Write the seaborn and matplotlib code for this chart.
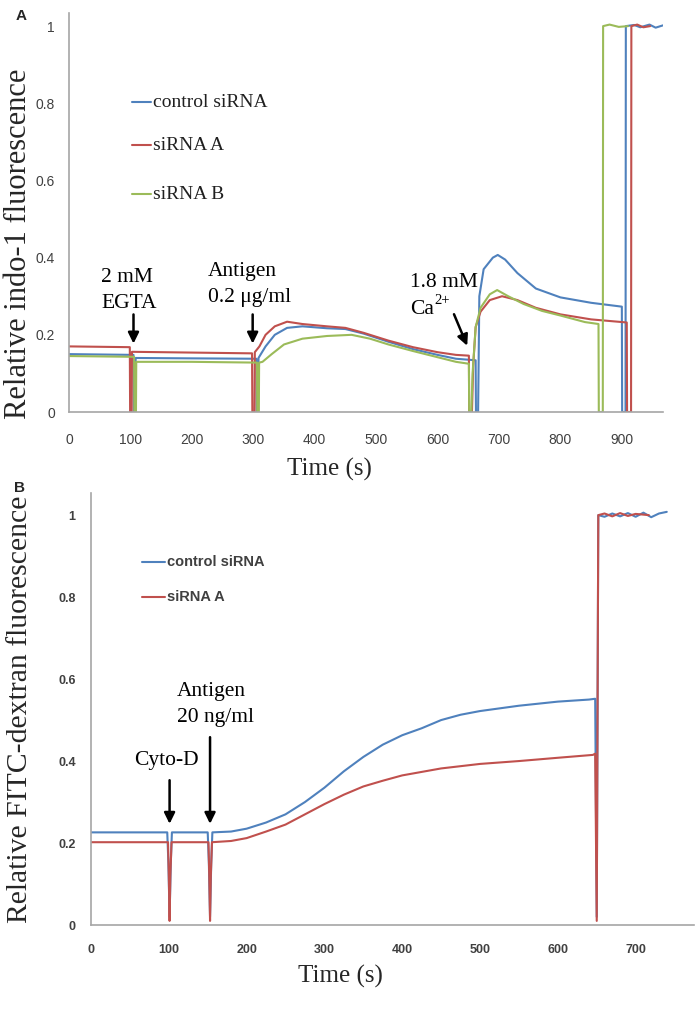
import matplotlib
matplotlib.use("Agg")
import matplotlib.pyplot as plt
import seaborn as sns
import pandas as pd

# ---------------- Panel A data (time s, relative indo-1 fluorescence) ----------------
a_ctrl_t = [0, 105, 105.5, 108, 108.5, 200, 305, 305.5, 308, 308.5, 320, 335, 355, 380, 420, 450, 480, 520,
            560, 600, 630, 662, 662.5, 666, 668, 675, 690, 698, 710, 730, 760, 800, 850, 900, 900.5, 906,
            906.5, 920, 930, 945, 955, 967]
a_ctrl_v = [0.15, 0.148, 0.0, 0.0, 0.14, 0.139, 0.138, 0.0, 0.0, 0.14, 0.17, 0.2, 0.218, 0.222, 0.217, 0.215,
            0.203, 0.182, 0.163, 0.148, 0.138, 0.134, 0.0, 0.0, 0.3, 0.37, 0.4, 0.407, 0.395, 0.36, 0.32, 0.297,
            0.283, 0.273, 0.0, 0.0, 1.0, 1.003, 0.997, 1.004, 0.996, 1.002]

a_sa_t = [0, 99, 99.5, 102, 102.5, 200, 298, 298.5, 302, 302.5, 310, 320, 335, 355, 380, 420, 450, 480, 520,
          560, 600, 630, 651, 651.5, 656, 658, 662, 670, 685, 705, 730, 760, 800, 850, 908, 908.5, 915,
          915.5, 925, 935, 946]
a_sa_v = [0.17, 0.168, 0.0, 0.0, 0.156, 0.154, 0.152, 0.0, 0.0, 0.155, 0.17, 0.2, 0.222, 0.234, 0.228, 0.222,
          0.218, 0.205, 0.185, 0.168, 0.155, 0.148, 0.146, 0.0, 0.0, 0.12, 0.22, 0.26, 0.29, 0.3, 0.29, 0.27,
          0.253, 0.24, 0.232, 0.0, 0.0, 1.0, 1.004, 0.997, 1.0]

a_sb_t = [0, 106, 106.5, 109, 109.5, 200, 306, 306.5, 309, 309.5, 315, 330, 350, 380, 420, 460, 490, 520,
          560, 600, 630, 651, 651.5, 655, 657, 662, 670, 685, 697, 715, 740, 770, 800, 840, 862, 862.5,
          869, 869.5, 880, 895, 910]
a_sb_v = [0.145, 0.143, 0.0, 0.0, 0.13, 0.13, 0.128, 0.0, 0.0, 0.128, 0.13, 0.15, 0.175, 0.19, 0.197, 0.2,
          0.19, 0.175, 0.158, 0.142, 0.13, 0.125, 0.0, 0.0, 0.1, 0.22, 0.27, 0.305, 0.316, 0.3, 0.28, 0.262,
          0.25, 0.233, 0.228, 0.0, 0.0, 1.0, 1.004, 0.998, 1.0]

# ---------------- Panel B data (time s, relative FITC-dextran fluorescence) ----------------
b_ctrl_t = [0, 98, 99.5, 101, 102.5, 104, 150, 151.5, 153, 154.5, 156, 180, 200, 225, 250, 275, 300, 325,
            350, 375, 400, 425, 450, 475, 500, 550, 600, 640, 648, 650, 652, 660, 670, 680, 690, 700, 710,
            720, 730, 740]
b_ctrl_v = [0.226, 0.226, 0.15, 0.02, 0.15, 0.226, 0.226, 0.15, 0.02, 0.15, 0.226, 0.228, 0.235, 0.25, 0.27,
            0.3, 0.335, 0.375, 0.41, 0.44, 0.463, 0.48, 0.5, 0.513, 0.522, 0.535, 0.545, 0.55, 0.552, 0.02,
            1.0, 0.996, 1.004, 0.997, 1.005, 0.996, 1.006, 0.995, 1.004, 1.008]

b_sa_t = [0, 99, 100, 101, 102, 103.5, 151, 152, 153, 154, 155.5, 180, 200, 225, 250, 275, 300, 325, 350,
          375, 400, 450, 500, 550, 600, 645, 648, 650, 652, 660, 670, 680, 690, 700, 717]
b_sa_v = [0.202, 0.202, 0.12, 0.01, 0.12, 0.202, 0.202, 0.12, 0.01, 0.12, 0.202, 0.205, 0.212, 0.228, 0.245,
          0.27, 0.295, 0.318, 0.338, 0.352, 0.365, 0.382, 0.393, 0.4, 0.408, 0.415, 0.418, 0.01, 1.0, 1.004,
          0.997, 1.005, 0.998, 1.003, 1.0]

a_labels = ["control siRNA", "siRNA A", "siRNA B"]
b_labels = ["control siRNA", "siRNA A"]
a_xticks = [0, 100, 200, 300, 400, 500, 600, 700, 800, 900]
b_xticks = [0, 100, 200, 300, 400, 500, 600, 700]
y_ticks = [0, 0.2, 0.4, 0.6, 0.8, 1.0]
y_ticklabels = ["0", "0.2", "0.4", "0.6", "0.8", "1"]

palette = {"control siRNA": "#4F81BD", "siRNA A": "#C0504D", "siRNA B": "#9BBB59"}

sns.set_style("white")
plt.rcParams["font.family"] = ["Liberation Sans", "DejaVu Sans"]

dfa = pd.concat([
    pd.DataFrame({"t": a_ctrl_t, "v": a_ctrl_v, "s": a_labels[0]}),
    pd.DataFrame({"t": a_sa_t, "v": a_sa_v, "s": a_labels[1]}),
    pd.DataFrame({"t": a_sb_t, "v": a_sb_v, "s": a_labels[2]}),
], ignore_index=True)
dfb = pd.concat([
    pd.DataFrame({"t": b_ctrl_t, "v": b_ctrl_v, "s": b_labels[0]}),
    pd.DataFrame({"t": b_sa_t, "v": b_sa_v, "s": b_labels[1]}),
], ignore_index=True)

W, H = 699, 1009
fig = plt.figure(figsize=(W / 100, H / 100), dpi=100)

def px_axes(l, r, top, bot):
    return fig.add_axes([l / W, 1 - bot / H, (r - l) / W, (bot - top) / H])

def ftext(x, y, s, **kw):
    return fig.text(x / W, 1 - y / H, s, **kw)

axA = px_axes(69, 663, 13, 412)
axB = px_axes(91, 694, 493, 925)

spine_c = "#A6A6A6"
serif = ["Liberation Serif", "DejaVu Serif"]

def style(ax, xticks, xmax, ymax, tick_fs, tick_w, xpad, ypad):
    for s in ["top", "right"]:
        ax.spines[s].set_visible(False)
    for s in ["left", "bottom"]:
        ax.spines[s].set_color(spine_c)
        ax.spines[s].set_linewidth(1.2)
    ax.set_xlim(0, xmax)
    ax.set_ylim(0, ymax)
    ax.set_xticks(xticks)
    ax.set_yticks(y_ticks)
    ax.set_yticklabels(y_ticklabels)
    ax.tick_params(axis="both", direction="out", length=4, width=1, color=spine_c,
                   labelsize=tick_fs, labelcolor="#404040")
    ax.tick_params(axis="x", pad=xpad)
    ax.tick_params(axis="y", pad=ypad)
    for lab in ax.get_xticklabels() + ax.get_yticklabels():
        lab.set_fontweight(tick_w)
    ax.set_xlabel("")
    ax.set_ylabel("")
    ax.grid(False)

ann_kw = dict(fontsize=15.5, family=serif, color="black", linespacing=1.5)
arr = dict(arrowstyle="-|>,head_length=0.65,head_width=0.32", color="black", lw=1.8)

# ---------- Panel A ----------
sns.lineplot(data=dfa, x="t", y="v", hue="s", palette=palette, sort=False, estimator=None,
             linewidth=1.5, ax=axA, legend=False)
style(axA, a_xticks, 967, 1.034, 10, "normal", 11, 6)
ftext(329, 469, "Time (s)", fontsize=18, family=serif, ha="center", va="center")
ftext(19, 244, "Relative indo-1 fluorescence", fontsize=22, family=serif, rotation=90,
      ha="center", va="center")

leg_y = [0.803, 0.691, 0.564]
for lab, yy in zip(a_labels, leg_y):
    axA.plot([103, 133], [yy, yy], color=palette[lab], lw=1.5)
    axA.text(137, yy, lab, fontsize=14, family=serif, va="center", ha="left", color="#202020")

axA.annotate("", xy=(105, 0.17), xytext=(105, 0.26), arrowprops=arr)
axA.text(52, 0.315, "2 mM\nEGTA", ha="left", va="center", **ann_kw)
axA.annotate("", xy=(299, 0.17), xytext=(299, 0.26), arrowprops=arr)
axA.text(226, 0.33, "Antigen\n0.2 μg/ml", ha="left", va="center", **ann_kw)
axA.annotate("", xy=(650, 0.165), xytext=(625, 0.26), arrowprops=arr)
axA.text(555, 0.335, "1.8 mM", ha="left", va="center", **ann_kw)
axA.text(555, 0.265, "Ca", ha="left", va="center", **ann_kw)
axA.text(594, 0.29, "2+", ha="left", va="center", fontsize=10.5, family=serif, color="black")

# ---------- Panel B ----------
sns.lineplot(data=dfb, x="t", y="v", hue="s", palette=palette, sort=False, estimator=None,
             linewidth=1.5, ax=axB, legend=False)
style(axB, b_xticks, 775, 1.054, 9, "bold", 10, 7)
ftext(340, 976, "Time (s)", fontsize=18, family=serif, ha="center", va="center")
ftext(20, 709, "Relative FITC-dextran fluorescence", fontsize=21.4, family=serif, rotation=90,
      ha="center", va="center")

leg_yb = [0.885, 0.8]
for lab, yy in zip(b_labels, leg_yb):
    axB.plot([65, 95], [yy, yy], color=palette[lab], lw=1.5)
    axB.text(98, yy, lab, fontsize=10.5, va="center", ha="left", color="#404040", fontweight="bold")

axB.annotate("", xy=(101, 0.24), xytext=(101, 0.36), arrowprops=arr)
axB.text(55, 0.402, "Cyto-D", ha="left", va="center", **ann_kw)
axB.annotate("", xy=(153, 0.24), xytext=(153, 0.465), arrowprops=arr)
axB.text(110, 0.537, "Antigen\n20 ng/ml", ha="left", va="center", **ann_kw)

ftext(16, 16, "A", fontsize=11, fontweight="bold", ha="left", va="center")
ftext(14, 488, "B", fontsize=11, fontweight="bold", ha="left", va="center")

fig.savefig("out.png", dpi=100)
